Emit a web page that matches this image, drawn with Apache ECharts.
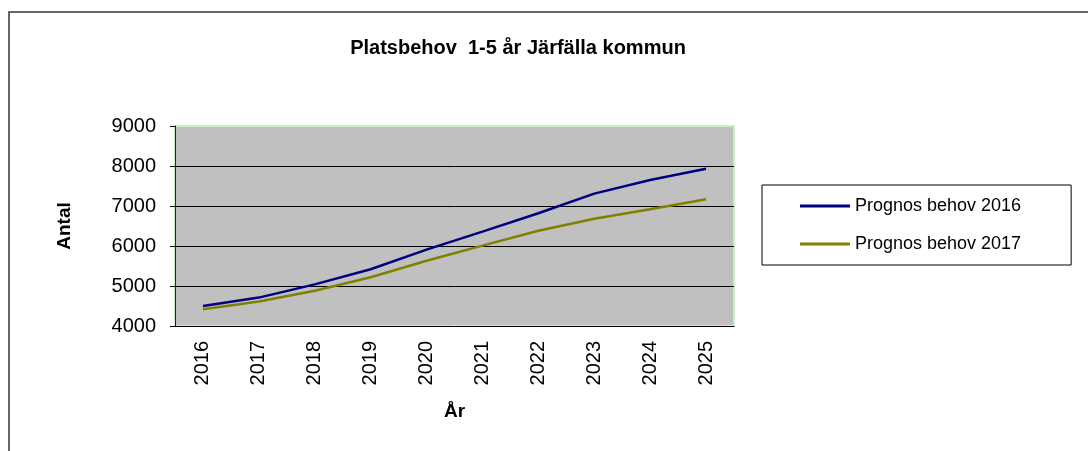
<!DOCTYPE html>
<html>
<head>
<meta charset="utf-8">
<script src="https://cdn.jsdelivr.net/npm/echarts@6/dist/echarts.min.js"></script>
<style>
  html, body { margin: 0; padding: 0; background: #fff; }
  #chart { width: 1088px; height: 451px; }
</style>
</head>
<body>
<div id="chart"></div>
<script>
// data
const years = ['2016', '2017', '2018', '2019', '2020', '2021', '2022', '2023', '2024', '2025'];
const prognos2016 = [4500, 4710, 5040, 5420, 5910, 6360, 6820, 7310, 7650, 7930];
const prognos2017 = [4420, 4610, 4880, 5220, 5630, 6010, 6380, 6680, 6920, 7170];
const yTicks = [4000, 5000, 6000, 7000, 8000, 9000];

const chart = echarts.init(document.getElementById('chart'));
const font = 'Arial, "Liberation Sans", sans-serif';

chart.setOption({
  animation: false,
  textStyle: { fontFamily: font },
  title: {
    text: 'Platsbehov  1-5 år Järfälla kommun',
    left: 513,
    textAlign: 'center',
    top: 33,
    textStyle: { fontSize: 20, fontWeight: 'bold', color: '#000', fontFamily: font }
  },
  graphic: [{
    type: 'rect',
    shape: { x: 9, y: 12, width: 1100, height: 460 },
    style: { fill: 'none', stroke: '#333', lineWidth: 1.5 },
    silent: true
  }],
  legend: {
    orient: 'vertical',
    left: 762,
    top: 185,
    padding: [12, 50, 12, 38],
    itemGap: 20,
    itemWidth: 50,
    itemHeight: 3,
    icon: 'rect',
    borderColor: '#000',
    borderWidth: 1,
    textStyle: { fontSize: 18, color: '#000', fontFamily: font },
    data: ['Prognos behov 2016', 'Prognos behov 2017']
  },
  grid: {
    left: 175,
    right: 354,
    top: 126,
    bottom: 125,
    show: true,
    backgroundColor: '#c0c0c0',
    borderColor: '#c4f0c4',
    borderWidth: 2
  },
  xAxis: {
    type: 'category',
    data: years,
    boundaryGap: true,
    name: 'År',
    nameLocation: 'middle',
    nameGap: 76,
    nameTextStyle: { fontSize: 19, fontWeight: 'bold', color: '#000' },
    axisLine: { lineStyle: { color: '#000', width: 1 } },
    axisTick: { interval: 0, length: 6, lineStyle: { color: '#000' } },
    axisLabel: { rotate: 90, interval: 0, fontSize: 20, color: '#000', margin: 15 }
  },
  yAxis: {
    type: 'value',
    min: yTicks[0],
    max: yTicks[yTicks.length - 1],
    interval: 1000,
    name: 'Antal',
    nameLocation: 'middle',
    nameGap: 101,
    nameRotate: 90,
    nameTextStyle: { fontSize: 19, fontWeight: 'bold', color: '#000' },
    axisLine: { show: true, lineStyle: { color: '#1a2a1a', width: 1 } },
    axisTick: { show: true, length: 5, lineStyle: { color: '#000' } },
    axisLabel: { fontSize: 20, color: '#000', margin: 19, formatter: (v) => String(v) },
    splitLine: { show: true, showMinLine: false, showMaxLine: false, lineStyle: { color: '#000', width: 1 } }
  },
  series: [
    {
      name: 'Prognos behov 2016',
      type: 'line',
      data: prognos2016,
      symbol: 'none',
      color: '#000080',
      lineStyle: { color: '#000080', width: 2.5 }
    },
    {
      name: 'Prognos behov 2017',
      type: 'line',
      data: prognos2017,
      symbol: 'none',
      color: '#808000',
      lineStyle: { color: '#808000', width: 2.5 }
    }
  ]
});
</script>
</body>
</html>
